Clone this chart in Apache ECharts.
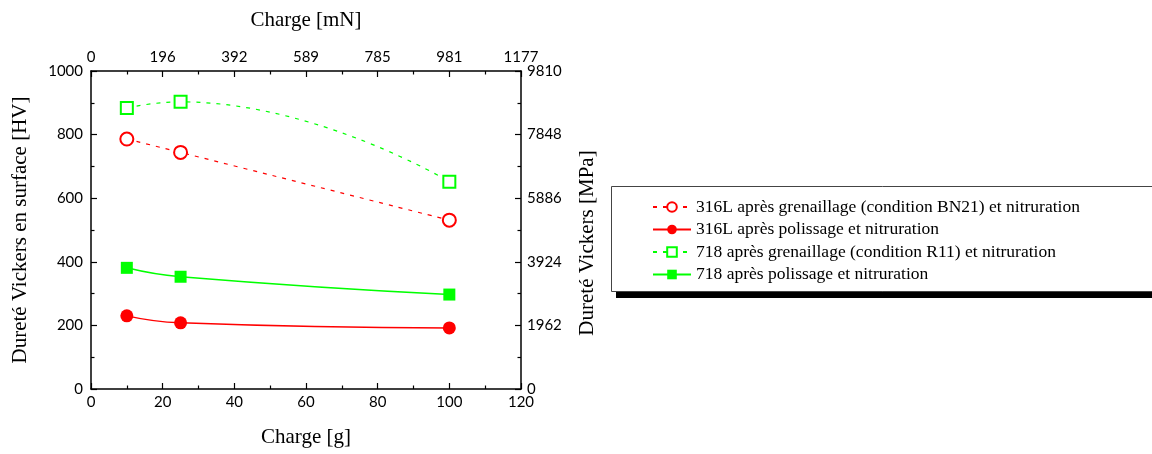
<!DOCTYPE html>
<html>
<head>
<meta charset="utf-8">
<script src="https://cdn.jsdelivr.net/npm/echarts@6/dist/echarts.min.js"></script>
<style>
html,body{margin:0;padding:0;background:#fff;}
#chart{width:1152px;height:454px;}
</style>
</head>
<body>
<div id="chart"></div>
<script>
// Data
const chargeG = [10, 25, 100];
const s316Gren = [786, 744, 531];
const s316Pol = [230, 208, 192];
const s718Gren = [884, 903, 652];
const s718Pol = [381, 353, 297];
const seriesNames = [
  '316L après grenaillage (condition BN21) et nitruration',
  '316L après polissage et nitruration',
  '718 après grenaillage (condition R11) et nitruration',
  '718 après polissage et nitruration'
];
const leftTickLabels = ['0', '200', '400', '600', '800', '1000'];
const bottomTickLabels = ['0', '20', '40', '60', '80', '100', '120'];
const topTickLabels = ['0', '196', '392', '589', '785', '981', '1177'];
const rightTickLabels = ['0', '1962', '3924', '5886', '7848', '9810'];

const RED = '#ff0000';
const GREEN = '#00ff00';
const titleFont = 'Liberation Serif';
const tickFont = 'Lato';

function pairs(vals) { return chargeG.map((x, i) => [x, vals[i]]); }

const axisCommon = {
  axisLine: { show: true, onZero: false, lineStyle: { color: '#000', width: 1.5 } },
  axisTick: { show: true, inside: true, length: 6, lineStyle: { color: '#000', width: 1.2 } },
  minorTick: { show: true, splitNumber: 2, length: 3.5, lineStyle: { color: '#000', width: 1.2 } },
  splitLine: { show: false },
  axisLabel: { color: '#000', fontFamily: tickFont, fontSize: 15 }
};
const nameStyle = { fontFamily: titleFont, fontSize: 21, color: '#000' };

const chart = echarts.init(document.getElementById('chart'), null, { renderer: 'canvas' });
chart.setOption({
  backgroundColor: '#fff',
  animation: false,
  grid: { left: 91, right: 631, top: 71, bottom: 65, containLabel: false },
  graphic: [
    { type: 'rect', left: 616, top: 291, z: 0, shape: { width: 600, height: 7 }, style: { fill: '#000' } },
    { type: 'rect', left: 611, top: 186, z: 1, shape: { width: 600, height: 105 }, style: { fill: '#fff', stroke: '#444', lineWidth: 1 } }
  ],
  legend: {
    left: 611, top: 186, z: 5,
    orient: 'vertical',
    padding: [11, 20, 8, 41],
    itemWidth: 38, itemHeight: 12, itemGap: 2.5,
    textStyle: { fontFamily: titleFont, fontSize: 17.5, lineHeight: 20, color: '#000' },
    data: seriesNames
  },
  xAxis: [
    Object.assign({}, axisCommon, {
      type: 'value', position: 'bottom', min: 0, max: 120, interval: 20,
      name: 'Charge [g]', nameLocation: 'middle', nameGap: 38,
      nameTextStyle: nameStyle,
      axisLabel: Object.assign({}, axisCommon.axisLabel, {
        margin: 6,
        formatter: (v) => bottomTickLabels[Math.round(v / 20)]
      })
    }),
    Object.assign({}, axisCommon, {
      type: 'value', position: 'top', min: 0, max: 120, interval: 20,
      name: 'Charge [mN]', nameLocation: 'middle', nameGap: 40,
      nameTextStyle: nameStyle,
      axisLabel: Object.assign({}, axisCommon.axisLabel, {
        margin: 6,
        formatter: (v) => topTickLabels[Math.round(v / 20)]
      })
    })
  ],
  yAxis: [
    Object.assign({}, axisCommon, {
      type: 'value', position: 'left', min: 0, max: 1000, interval: 200,
      name: 'Dureté Vickers en surface [HV]', nameLocation: 'middle', nameGap: 60, nameRotate: 90,
      nameTextStyle: nameStyle,
      axisLabel: Object.assign({}, axisCommon.axisLabel, {
        margin: 8,
        formatter: (v) => leftTickLabels[Math.round(v / 200)]
      })
    }),
    Object.assign({}, axisCommon, {
      type: 'value', position: 'right', min: 0, max: 1000, interval: 200,
      name: 'Dureté Vickers [MPa]', nameLocation: 'middle', nameGap: 56, nameRotate: 90,
      nameTextStyle: Object.assign({}, nameStyle, { padding: [0, 26, 0, 0] }),
      axisLabel: Object.assign({}, axisCommon.axisLabel, {
        margin: 6,
        formatter: (v) => rightTickLabels[Math.round(v / 200)]
      })
    })
  ],
  series: [
    {
      name: seriesNames[0], type: 'line', smooth: 0.5, data: pairs(s316Gren),
      symbol: 'emptyCircle', symbolSize: 13,
      itemStyle: { color: RED, borderColor: RED, borderWidth: 1 },
      lineStyle: { color: RED, width: 1.2, type: [4, 6] }
    },
    {
      name: seriesNames[1], type: 'line', smooth: 0.5, data: pairs(s316Pol),
      symbol: 'circle', symbolSize: 13,
      itemStyle: { color: RED },
      lineStyle: { color: RED, width: 1.5, type: 'solid' }
    },
    {
      name: seriesNames[2], type: 'line', smooth: 0.5, data: pairs(s718Gren),
      symbol: 'emptyRect', symbolSize: 12,
      itemStyle: { color: GREEN, borderColor: GREEN, borderWidth: 1 },
      lineStyle: { color: GREEN, width: 1.2, type: [4, 6] }
    },
    {
      name: seriesNames[3], type: 'line', smooth: 0.5, data: pairs(s718Pol),
      symbol: 'rect', symbolSize: 12,
      itemStyle: { color: GREEN },
      lineStyle: { color: GREEN, width: 1.5, type: 'solid' }
    }
  ]
});
</script>
</body>
</html>
